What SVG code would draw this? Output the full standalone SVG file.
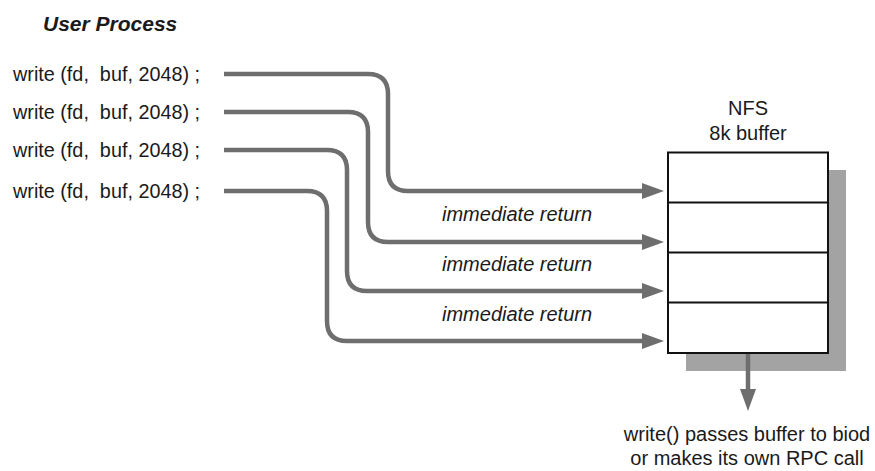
<svg xmlns="http://www.w3.org/2000/svg" width="875" height="471" viewBox="0 0 875 471">
<style>
.t{font-family:"Liberation Sans",Arial,sans-serif;font-size:20px;fill:#1a1a1a;white-space:pre}
.it{font-style:italic}
.ti{font-family:"Liberation Sans",Arial,sans-serif;font-size:21px;font-weight:bold;font-style:italic;fill:#1a1a1a}
.c{fill:none;stroke:#6e6e6e;stroke-width:4.5}
.ah{fill:#6e6e6e}
</style>
<defs>
<marker id="arr" viewBox="0 0 22 16" refX="12" refY="8" markerWidth="22" markerHeight="16" markerUnits="userSpaceOnUse" orient="auto">
<polygon points="0,0 22,8 0,16" class="ah"/>
</marker>
</defs>
<rect width="875" height="471" fill="#ffffff"/>
<text class="ti" x="43" y="31">User Process</text>
<g id="calls">
<text class="t" x="13" y="81" xml:space="preserve" textLength="187" lengthAdjust="spacingAndGlyphs">write (fd,  buf, 2048) ;</text>
<text class="t" x="13" y="119" xml:space="preserve" textLength="187" lengthAdjust="spacingAndGlyphs">write (fd,  buf, 2048) ;</text>
<text class="t" x="13" y="157" xml:space="preserve" textLength="187" lengthAdjust="spacingAndGlyphs">write (fd,  buf, 2048) ;</text>
<text class="t" x="13" y="198" xml:space="preserve" textLength="187" lengthAdjust="spacingAndGlyphs">write (fd,  buf, 2048) ;</text>
</g>
<g id="buffer">
<rect x="686" y="170" width="160" height="201" fill="#a3a3a3"/>
<rect x="668" y="152.5" width="160" height="200.5" fill="#ffffff" stroke="#111" stroke-width="2"/>
<line x1="668" y1="202.5" x2="828" y2="202.5" stroke="#111" stroke-width="2"/>
<line x1="668" y1="252.5" x2="828" y2="252.5" stroke="#111" stroke-width="2"/>
<line x1="668" y1="302.5" x2="828" y2="302.5" stroke="#111" stroke-width="2"/>
<text class="t" x="748" y="115" text-anchor="middle">NFS</text>
<text class="t" x="748" y="140" text-anchor="middle">8k buffer</text>
</g>
<g id="connectors">
<path class="c" d="M224,74 H368 Q388,74 388,94 V171 Q388,191 408,191 H654" marker-end="url(#arr)"/>
<path class="c" d="M224,112 H348 Q368,112 368,132 V222 Q368,242 388,242 H654" marker-end="url(#arr)"/>
<path class="c" d="M224,150 H327 Q347,150 347,170 V271 Q347,291 367,291 H654" marker-end="url(#arr)"/>
<path class="c" d="M224,191 H307 Q327,191 327,211 V321 Q327,341 347,341 H654" marker-end="url(#arr)"/>
<path class="c" d="M748,354 V401" marker-end="url(#arr)"/>
</g>
<g id="labels">
<text class="t it" x="442" y="221">immediate return</text>
<text class="t it" x="442" y="271">immediate return</text>
<text class="t it" x="442" y="321">immediate return</text>
<text class="t" x="747" y="441" text-anchor="middle">write() passes buffer to biod</text>
<text class="t" x="747" y="465" text-anchor="middle">or makes its own RPC call</text>
</g>
</svg>
